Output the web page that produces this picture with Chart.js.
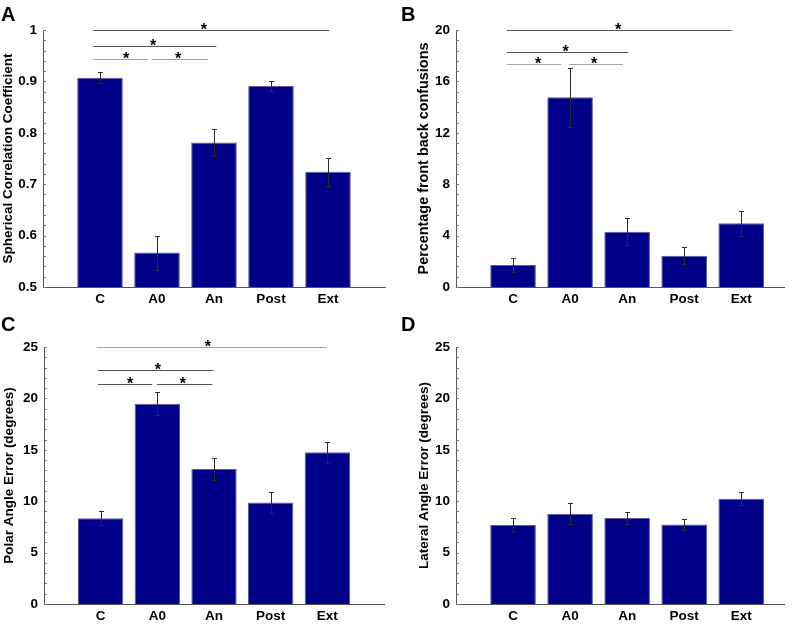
<!DOCTYPE html>
<html>
<head>
<meta charset="utf-8">
<script src="https://cdn.jsdelivr.net/npm/chart.js@4.4.1/dist/chart.umd.min.js"></script>
<style>
  html, body { margin: 0; padding: 0; background: #fff; }
  #figure { position: relative; width: 798px; height: 624px; }
  #figure canvas { position: absolute; }
</style>
</head>
<body>
<div id="figure">
  <canvas id="chart-a" width="399" height="310" style="left:0;top:0"></canvas>
  <canvas id="chart-b" width="398" height="310" style="left:400px;top:0"></canvas>
  <canvas id="chart-c" width="399" height="314" style="left:0;top:310px"></canvas>
  <canvas id="chart-d" width="398" height="314" style="left:400px;top:310px"></canvas>
</div>
<script>
const categories = ["C", "A0", "An", "Post", "Ext"];

const sphericalCorr = [0.907, 0.567, 0.781, 0.891, 0.724];
const sphericalCorrErr = [0.011, 0.033, 0.026, 0.01, 0.027];
const frontBack = [1.71, 14.76, 4.3, 2.44, 4.96];
const frontBackErr = [0.52, 2.3, 1.07, 0.65, 0.98];
const polarError = [8.33, 19.48, 13.13, 9.88, 14.75];
const polarErrorSem = [0.68, 1.14, 1.03, 0.98, 1.0];
const lateralError = [7.68, 8.78, 8.37, 7.74, 10.24];
const lateralErrorSem = [0.68, 1.04, 0.58, 0.52, 0.62];

// major y tick labels per panel
const ticksA = [0.5, 0.6, 0.7, 0.8, 0.9, 1];
const ticksB = [0, 4, 8, 12, 16, 20];
const ticksC = [0, 5, 10, 15, 20, 25];
const ticksD = [0, 5, 10, 15, 20, 25];

// significance brackets: [from, to, y, star position]
const sigA = [[0.88, 5.02, 1.0, 2.82], [0.88, 3.04, 0.969, 1.93], [0.88, 1.84, 0.9436, 1.46], [1.91, 2.89, 0.9436, 2.37]];
const sigB = [[0.89, 4.83, 20, 2.84], [0.89, 3.02, 18.31, 1.92], [0.89, 1.84, 17.38, 1.44], [1.99, 2.93, 17.38, 2.42]];
const sigC = [[0.93, 4.99, 25, 2.89], [0.95, 2.99, 22.72, 2.01], [0.95, 1.91, 21.43, 1.52], [1.99, 2.97, 21.43, 2.45]];
const sigD = [];

const FONT = "'Liberation Sans', Arial, Helvetica, sans-serif";
const BAR_FILL = "#000088";
const BAR_EDGE = "#5c5c9c";
const AXIS_COLOR = "#555";
const DARK_LINE = "#555";
const LIGHT_LINE = "#a3a3a3";

const panels = [
  {
    letter: "A", canvas: "chart-a", values: sphericalCorr, errors: sphericalCorrErr,
    majors: ticksA, minors: 4, brackets: sigA,
    bracketColors: [DARK_LINE, DARK_LINE, LIGHT_LINE, LIGHT_LINE],
    title: "Spherical Correlation Coefficient", titleSize: 13.5, titlePad: 0,
    left: 43, top: 30, bottom: 287, height: 310, right: 14, xMax: 6,
  },
  {
    letter: "B", canvas: "chart-b", values: frontBack, errors: frontBackErr,
    majors: ticksB, minors: 4, brackets: sigB,
    bracketColors: [DARK_LINE, DARK_LINE, LIGHT_LINE, LIGHT_LINE],
    title: "Percentage front back confusions", titleSize: 14.4, titlePad: 15,
    left: 56, top: 30, bottom: 287, height: 310, right: 14, xMax: 5.75,
  },
  {
    letter: "C", canvas: "chart-c", values: polarError, errors: polarErrorSem,
    majors: ticksC, minors: 4, brackets: sigC,
    bracketColors: [LIGHT_LINE, DARK_LINE, DARK_LINE, DARK_LINE],
    title: "Polar Angle Error (degrees)", titleSize: 13.5, titlePad: 1,
    left: 44, top: 37, bottom: 294, height: 314, right: 15, xMax: 6,
  },
  {
    letter: "D", canvas: "chart-d", values: lateralError, errors: lateralErrorSem,
    majors: ticksD, minors: 4, brackets: sigD,
    bracketColors: [],
    title: "Lateral Angle Error (degrees)", titleSize: 13.5, titlePad: 16,
    left: 56, top: 37, bottom: 294, height: 314, right: 14, xMax: 5.75,
  },
];

function isMajor(value, majors) {
  return majors.some((m) => Math.abs(m - value) < 1e-9);
}

function buildYTicks(majors, minors) {
  const ticks = [];
  for (let i = 0; i < majors.length; i++) {
    ticks.push({ value: majors[i] });
    if (i < majors.length - 1) {
      const step = (majors[i + 1] - majors[i]) / (minors + 1);
      for (let k = 1; k <= minors; k++) {
        ticks.push({ value: majors[i] + step * k });
      }
    }
  }
  return ticks;
}

// inner tick marks, error bars, significance brackets and panel letter
const extrasPlugin = {
  id: "extras",
  afterDraw(chart, args, opts) {
    const p = opts.panel;
    const { ctx, chartArea } = chart;
    const xs = chart.scales.x;
    const ys = chart.scales.y;
    ctx.save();

    // y tick marks drawn inside the axis
    ctx.strokeStyle = "#777";
    ctx.lineWidth = 1;
    ys.ticks.forEach((t) => {
      const py = Math.round(ys.getPixelForValue(t.value)) + 0.5;
      ctx.beginPath();
      ctx.moveTo(chartArea.left, py);
      ctx.lineTo(chartArea.left + 3, py);
      ctx.stroke();
    });

    // error bars
    ctx.strokeStyle = "#2a2a2a";
    p.values.forEach((v, i) => {
      const px = Math.round(xs.getPixelForValue(i + 1)) + 0.5;
      const hi = Math.round(ys.getPixelForValue(v + p.errors[i])) + 0.5;
      const lo = Math.round(ys.getPixelForValue(v - p.errors[i])) + 0.5;
      ctx.beginPath();
      ctx.moveTo(px, hi);
      ctx.lineTo(px, lo);
      ctx.moveTo(px - 2.5, hi);
      ctx.lineTo(px + 2.5, hi);
      ctx.moveTo(px - 2.5, lo);
      ctx.lineTo(px + 2.5, lo);
      ctx.stroke();
    });

    // significance brackets
    ctx.font = "bold 16px " + FONT;
    ctx.textAlign = "center";
    ctx.textBaseline = "alphabetic";
    p.brackets.forEach(([from, to, y, star], i) => {
      const py = Math.round(ys.getPixelForValue(y)) + 0.5;
      ctx.strokeStyle = p.bracketColors[i];
      ctx.beginPath();
      ctx.moveTo(xs.getPixelForValue(from), py);
      ctx.lineTo(xs.getPixelForValue(to), py);
      ctx.stroke();
      ctx.fillStyle = "#000";
      ctx.fillText("*", xs.getPixelForValue(star), py + 4);
    });

    // panel letter
    ctx.fillStyle = "#000";
    ctx.font = "bold 20px " + FONT;
    ctx.textAlign = "left";
    ctx.fillText(p.letter, 1, 21);
    ctx.restore();
  },
};

function renderPanel(p) {
  const ctx = document.getElementById(p.canvas).getContext("2d");
  const tickFont = { family: FONT, size: 13.5, weight: "bold" };
  return new Chart(ctx, {
    type: "bar",
    data: {
      datasets: [
        {
          data: p.values.map((v, i) => ({ x: i + 1, y: v })),
          backgroundColor: BAR_FILL,
          borderColor: BAR_EDGE,
          borderWidth: 1,
          categoryPercentage: 1,
          barPercentage: 0.8,
        },
      ],
    },
    options: {
      responsive: false,
      animation: false,
      layout: { padding: { top: p.top, right: p.right, bottom: 0, left: 0 } },
      plugins: {
        legend: { display: false },
        tooltip: { enabled: false },
        extras: { panel: p },
      },
      scales: {
        x: {
          type: "linear",
          offset: false,
          min: 0,
          max: p.xMax,
          afterFit: (s) => {
            s.height = p.height - p.bottom;
          },
          afterBuildTicks: (s) => {
            s.ticks = categories.map((c, i) => ({ value: i + 1 }));
          },
          ticks: {
            callback: (v) => categories[v - 1] || "",
            font: tickFont,
            color: "#000",
            padding: 4,
            autoSkip: false,
            maxRotation: 0,
          },
          grid: { display: false, drawTicks: false, offset: false },
          border: { color: AXIS_COLOR, width: 1 },
        },
        y: {
          min: p.majors[0],
          max: p.majors[p.majors.length - 1],
          afterFit: (s) => {
            s.width = p.left;
          },
          afterBuildTicks: (s) => {
            s.ticks = buildYTicks(p.majors, p.minors);
          },
          ticks: {
            callback: (v) => (isMajor(v, p.majors) ? String(+v.toFixed(2)) : ""),
            font: tickFont,
            color: "#000",
            padding: 6,
            autoSkip: false,
          },
          grid: { display: false, drawTicks: false },
          border: { color: AXIS_COLOR, width: 1 },
          title: {
            display: true,
            text: p.title,
            color: "#000",
            font: { family: FONT, size: p.titleSize, weight: "bold" },
            padding: { top: p.titlePad, bottom: 0 },
          },
        },
      },
    },
    plugins: [extrasPlugin],
  });
}

panels.forEach((p) => renderPanel(p));
</script>
</body>
</html>
